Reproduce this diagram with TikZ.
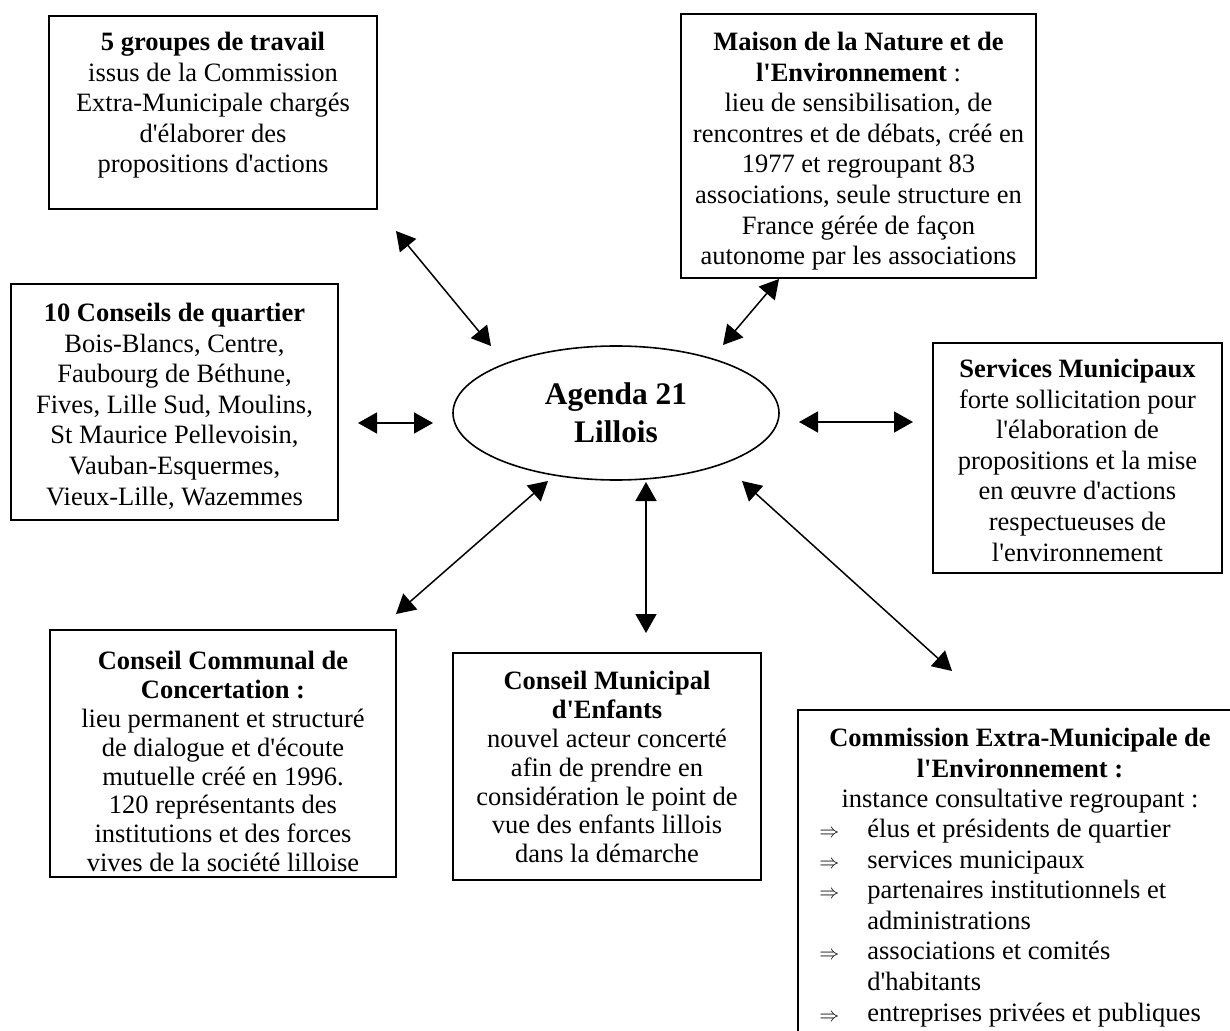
\documentclass[tikz,border=0pt]{standalone}
\usepackage{fontspec}
\setmainfont{Liberation Serif}
\usetikzlibrary{arrows.meta,shapes.geometric,fit}
\newcommand{\apos}{\textquotesingle}
\newcommand{\imp}{{\fontsize{10}{10}\selectfont$\Rightarrow$}}
\begin{document}
\begin{tikzpicture}[x=0.5pt,y=-0.5pt,
  box/.style={draw,line width=0.8pt,inner sep=0pt},
  txt/.style={inner sep=0pt,align=center,anchor=north,font=\fontsize{13.25pt}{15.3pt}\selectfont},
  tighttxt/.style={txt,font=\fontsize{13.25pt}{14.45pt}\selectfont},
  ltxt/.style={inner sep=0pt,align=left,anchor=north west,font=\fontsize{13.25pt}{15.3pt}\selectfont},
  link/.style={line width=0.75pt,{Triangle[length=9.5pt,width=10.5pt]}-{Triangle[length=9.5pt,width=10.5pt]}}]
\clip (0,0) rectangle (1230,1031);
\fill[white] (0,0) rectangle (1230,1031);

% central ellipse
\node[ellipse,draw,line width=0.8pt,inner sep=0pt,minimum width=163pt,minimum height=67pt,
      align=center,font=\fontsize{15.7pt}{19pt}\selectfont\bfseries] (ag) at (616,413) {Agenda 21\\Lillois};

% boxes
\node[box,fit={(49,16)(377,209)}] (g) {};
\node[txt] (gt) at (213,28.6) {\strut\textbf{5 groupes de travail}\\issus de la Commission\\Extra-Municipale chargés\\d\apos élaborer des\\propositions d\apos actions};

\node[box,fit={(681,14)(1036,278)}] (m) {};
\node[txt] (mt) at (858.5,28.6) {\strut\textbf{Maison de la Nature et de}\\\textbf{l\apos Environnement} :\\lieu de sensibilisation, de\\rencontres et de débats, créé en\\1977 et regroupant 83\\associations, seule structure en\\France gérée de façon\\autonome par les associations};

\node[box,fit={(11,284)(338,520)}] (q) {};
\node[txt] (qt) at (174.5,299.6) {\strut\textbf{10 Conseils de quartier}\\Bois-Blancs, Centre,\\Faubourg de Béthune,\\Fives, Lille Sud, Moulins,\\St Maurice Pellevoisin,\\Vauban-Esquermes,\\Vieux-Lille, Wazemmes};

\node[box,fit={(933,343)(1222,573)}] (s) {};
\node[txt] (st) at (1077.5,355.6) {\strut\textbf{Services Municipaux}\\forte sollicitation pour\\l\apos élaboration de\\propositions et la mise\\en œuvre d\apos actions\\respectueuses de\\l\apos environnement};

\node[box,fit={(50,630)(396,877)}] (cc) {};
\node[tighttxt] (cct) at (223,648.8) {\strut\textbf{Conseil Communal de}\\\textbf{Concertation :}\\lieu permanent et structuré\\de dialogue et d\apos écoute\\mutuelle créé en 1996.\\120 représentants des\\institutions et des forces\\vives de la société lilloise};

\node[box,fit={(453,653)(761,880)}] (cm) {};
\node[tighttxt] (cmt) at (607,668.8) {\strut\textbf{Conseil Municipal}\\\textbf{d\apos Enfants}\\nouvel acteur concerté\\afin de prendre en\\considération le point de\\vue des enfants lillois\\dans la démarche};

\node[box,fit={(798,710)(1262,1070)}] (ce) {};
\node[txt] (cet) at (1020,724.6) {\strut\textbf{Commission Extra-Municipale de}\\\textbf{l\apos Environnement :}\\instance consultative regroupant :};
\node[ltxt] (cel) at (819,815.6) {\strut\makebox[24pt][l]{\imp}élus et présidents de quartier\\
\makebox[24pt][l]{\imp}services municipaux\\
\makebox[24pt][l]{\imp}partenaires institutionnels et\\
\hspace*{24pt}administrations\\
\makebox[24pt][l]{\imp}associations et comités\\
\hspace*{24pt}d\apos habitants\\
\makebox[24pt][l]{\imp}entreprises privées et publiques};

% connector end points
\coordinate (a1) at (396,231); \coordinate (a2) at (491,346);
\coordinate (b1) at (779,279); \coordinate (b2) at (723,345);
\coordinate (c1) at (358,423); \coordinate (c2) at (433,423);
\coordinate (d1) at (799,422); \coordinate (d2) at (913,422);
\coordinate (e1) at (548,481); \coordinate (e2) at (396,614);
\coordinate (f1) at (646,482); \coordinate (f2) at (646,633);
\coordinate (h1) at (742,481); \coordinate (h2) at (952,671);

\draw[link] (a1) -- (a2);
\draw[link] (b1) -- (b2);
\draw[link] (c1) -- (c2);
\draw[link] (d1) -- (d2);
\draw[link] (e1) -- (e2);
\draw[link] (f1) -- (f2);
\draw[link] (h1) -- (h2);
\end{tikzpicture}
\end{document}
